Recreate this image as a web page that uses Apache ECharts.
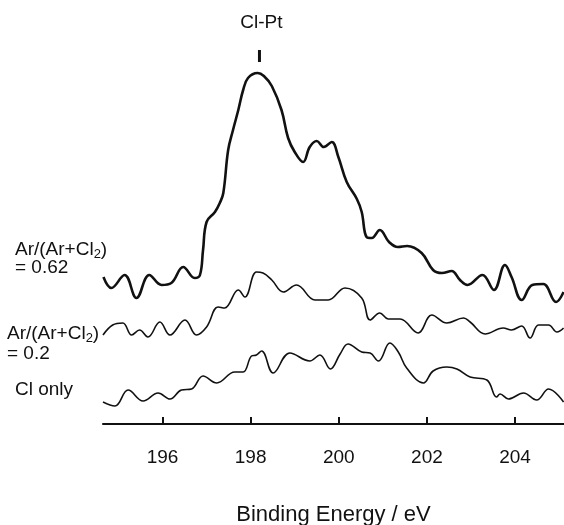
<!DOCTYPE html>
<html>
<head>
<meta charset="utf-8">
<title>Cl 2p XPS</title>
<script src="https://cdn.jsdelivr.net/npm/echarts@6.0.0/dist/echarts.min.js"></script>
<style>
  html, body { margin: 0; padding: 0; background: #fff; }
  #main { width: 564px; height: 525px; }
</style>
</head>
<body>
<div id="main"></div>
<script>
// binding energy (eV) / intensity (a.u., offset traces)
// Ar/(Ar+Cl2) = 0.62
var energy062 = [194.66, 194.84, 195.14, 195.41, 195.70, 195.98, 196.20, 196.47, 196.73, 196.85,
  196.92, 197.00, 197.19, 197.30, 197.38, 197.49, 197.60, 197.72, 197.83, 197.94,
  198.16, 198.30, 198.48, 198.70, 198.85, 199.00, 199.19, 199.34, 199.50, 199.66,
  199.84, 199.99, 200.18, 200.41, 200.52, 200.63, 200.75, 200.93, 201.14, 201.34,
  201.55, 201.88, 202.14, 202.34, 202.56, 202.75, 202.92, 203.26, 203.52, 203.77,
  203.92, 204.15, 204.39, 204.64, 204.93, 205.10];
var counts062 = [147, 136, 149, 126, 149, 139, 141, 157, 146, 149,
  174, 202, 212, 221, 231, 274, 294, 314, 334, 346,
  351, 348, 338, 314, 286, 272, 262, 277, 283, 277,
  282, 267, 242, 225, 212, 187, 186, 194, 182, 177,
  178, 171, 154, 151, 153, 144, 139, 149, 134, 159,
  147, 124, 139, 140, 122, 132];

// Ar/(Ar+Cl2) = 0.2
var energy02 = [194.65, 194.87, 195.10, 195.30, 195.48, 195.67, 195.94, 196.17, 196.51, 196.77,
  197.00, 197.26, 197.41, 197.72, 197.87, 198.13, 198.28, 198.48, 198.74, 199.04,
  199.46, 199.76, 200.14, 200.52, 200.71, 200.93, 201.12, 201.39, 201.80, 202.11,
  202.45, 202.83, 202.98, 203.32, 203.73, 203.92, 204.15, 204.34, 204.53, 204.76,
  204.95, 205.10];
var counts02 = [89, 99, 101, 89, 94, 87, 102, 89, 104, 89,
  97, 117, 116, 134, 127, 152, 151, 144, 132, 139,
  124, 124, 136, 126, 104, 111, 105, 105, 91, 109,
  101, 106, 102, 90, 96, 94, 98, 86, 99, 99,
  92, 96];

// Cl only
var energyCl = [194.65, 194.92, 195.22, 195.56, 195.90, 196.17, 196.43, 196.66, 196.92, 197.23,
  197.64, 197.83, 198.02, 198.13, 198.25, 198.51, 198.89, 199.34, 199.57, 199.81,
  200.03, 200.21, 200.52, 200.71, 200.90, 201.16, 201.35, 201.54, 201.92, 202.14,
  202.45, 202.68, 202.98, 203.36, 203.58, 203.66, 203.85, 204.19, 204.49, 204.76,
  205.10];
var countsCl = [22, 18, 34, 23, 31, 25, 34, 35, 48, 41,
  52, 52, 68, 69, 73, 51, 71, 63, 69, 55,
  70, 80, 72, 71, 63, 81, 72, 56, 41, 53,
  57, 55, 47, 44, 27, 30, 25, 31, 24, 35,
  22];

var tickValues = [196, 198, 200, 202, 204];
var clPtEnergy = 198.2;

var FONT = '"Liberation Sans", Arial, Helvetica, sans-serif';

function pairs(xs, ys) {
  return xs.map(function (x, i) { return [x, ys[i]]; });
}

var myChart = echarts.init(document.getElementById('main'));

myChart.setOption({
  animation: false,
  backgroundColor: '#fff',
  grid: { left: 103, right: 0, top: 70, bottom: 101, outerBoundsMode: 'none', containLabel: false },
  xAxis: {
    type: 'value',
    min: 194.65,
    max: 205.11,
    name: 'Binding Energy / eV',
    nameLocation: 'middle',
    nameGap: 80,
    nameTextStyle: { fontFamily: FONT, fontSize: 22, color: '#111' },
    splitLine: { show: false },
    axisLine: { lineStyle: { color: '#111', width: 2 } },
    axisTick: {
      inside: true, length: 7,
      customValues: tickValues,
      lineStyle: { color: '#111', width: 2 }
    },
    axisLabel: {
      customValues: tickValues,
      margin: 24,
      fontFamily: FONT, fontSize: 19, color: '#111'
    }
  },
  yAxis: {
    type: 'value', min: 0, max: 354, show: false
  },
  series: [
    {
      type: 'line', name: '0.62', data: pairs(energy062, counts062),
      smooth: 0.4, showSymbol: false,
      lineStyle: { color: '#111', width: 2.6 }
    },
    {
      type: 'line', name: '0.2', data: pairs(energy02, counts02),
      smooth: 0.4, showSymbol: false,
      lineStyle: { color: '#111', width: 1.6 }
    },
    {
      type: 'line', name: 'Cl only', data: pairs(energyCl, countsCl),
      smooth: 0.4, showSymbol: false,
      lineStyle: { color: '#111', width: 1.6 }
    }
  ]
});

// trace labels and the Cl-Pt marker
var subRich = { s: { fontFamily: FONT, fontSize: 13, fill: '#111', verticalAlign: 'bottom', padding: [9, 0, 0, 0] } };
function label(text, x, y) {
  return {
    type: 'text', x: x, y: y,
    style: {
      text: text, fontFamily: FONT, fontSize: 19, fill: '#111',
      textAlign: 'left', textVerticalAlign: 'middle', rich: subRich
    }
  };
}
var markX = myChart.convertToPixel({ xAxisIndex: 0 }, clPtEnergy);

myChart.setOption({
  graphic: [
    label('Ar/(Ar+Cl{s|2})', 15, 250),
    label('= 0.62', 15, 268),
    label('Ar/(Ar+Cl{s|2})', 7, 334),
    label('= 0.2', 7, 354),
    label('Cl only', 15, 390),
    {
      type: 'line',
      shape: { x1: markX, y1: 50, x2: markX, y2: 62 },
      style: { stroke: '#111', lineWidth: 3 }
    },
    {
      type: 'text', x: markX + 2, y: 23,
      style: {
        text: 'Cl-Pt', fontFamily: FONT, fontSize: 19, fill: '#111',
        textAlign: 'center', textVerticalAlign: 'middle'
      }
    }
  ]
});
</script>
</body>
</html>
